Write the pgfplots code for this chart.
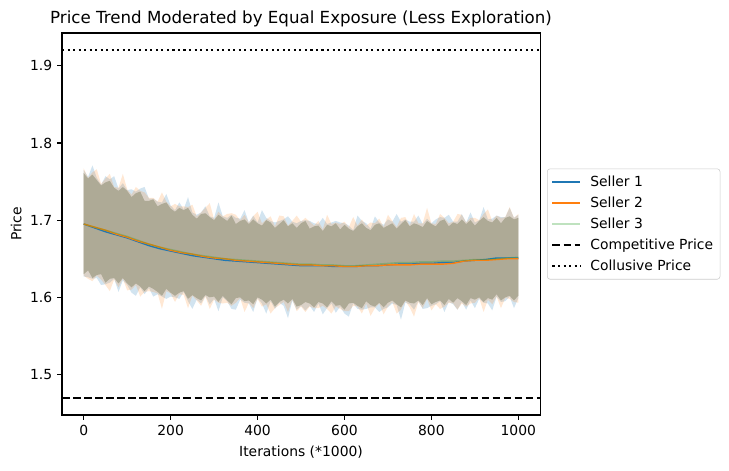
\documentclass[border=0pt]{standalone}
\usepackage{fontspec}
\setmainfont{DejaVu Sans}
\usepackage{pgfplots}
\pgfplotsset{compat=1.18}
\usepackage{pgfplotstable}
\usepgfplotslibrary{fillbetween}
\definecolor{mplblue}{HTML}{1F77B4}
\definecolor{mplorange}{HTML}{FF7F0E}
\definecolor{mplgreen}{HTML}{2CA02C}
\definecolor{bandcore}{RGB}{174,170,150}

\pgfplotstableread{
x cu cl bu bl ou ol
0 1.761 1.630 1.765 1.627 1.767 1.628
10 1.754 1.635 1.756 1.626 1.755 1.624
20 1.759 1.625 1.771 1.624 1.762 1.621
30 1.752 1.629 1.755 1.625 1.766 1.628
40 1.745 1.630 1.746 1.616 1.747 1.623
50 1.749 1.619 1.757 1.617 1.754 1.616
60 1.751 1.624 1.753 1.619 1.760 1.608
70 1.742 1.625 1.757 1.624 1.743 1.623
80 1.738 1.618 1.741 1.607 1.742 1.613
90 1.743 1.625 1.748 1.622 1.760 1.624
100 1.738 1.618 1.739 1.616 1.740 1.609
110 1.730 1.613 1.740 1.606 1.733 1.610
120 1.735 1.618 1.737 1.602 1.743 1.616
130 1.737 1.614 1.741 1.613 1.738 1.601
140 1.725 1.608 1.743 1.604 1.736 1.607
150 1.725 1.614 1.728 1.612 1.729 1.608
160 1.727 1.611 1.728 1.601 1.729 1.607
170 1.718 1.607 1.724 1.604 1.724 1.605
180 1.721 1.602 1.723 1.601 1.736 1.585
190 1.723 1.611 1.734 1.598 1.724 1.608
200 1.715 1.606 1.719 1.601 1.718 1.605
210 1.711 1.602 1.713 1.600 1.721 1.594
220 1.716 1.606 1.723 1.598 1.718 1.604
230 1.713 1.608 1.714 1.607 1.718 1.603
240 1.716 1.598 1.730 1.595 1.717 1.586
250 1.707 1.603 1.710 1.585 1.720 1.602
260 1.702 1.599 1.707 1.597 1.705 1.596
270 1.708 1.596 1.710 1.592 1.710 1.589
280 1.709 1.603 1.718 1.602 1.716 1.601
290 1.704 1.600 1.705 1.591 1.722 1.585
300 1.700 1.601 1.703 1.598 1.701 1.597
310 1.707 1.594 1.723 1.582 1.711 1.593
320 1.703 1.602 1.705 1.600 1.705 1.592
330 1.699 1.596 1.703 1.595 1.708 1.593
340 1.706 1.591 1.707 1.585 1.709 1.589
350 1.695 1.599 1.703 1.584 1.707 1.593
360 1.699 1.600 1.702 1.597 1.700 1.599
370 1.701 1.595 1.713 1.593 1.707 1.581
380 1.695 1.596 1.697 1.592 1.697 1.593
390 1.701 1.591 1.706 1.581 1.705 1.586
400 1.696 1.600 1.697 1.599 1.711 1.598
410 1.693 1.597 1.713 1.592 1.696 1.588
420 1.700 1.592 1.703 1.579 1.701 1.591
430 1.697 1.597 1.699 1.595 1.705 1.579
440 1.690 1.588 1.697 1.585 1.692 1.586
450 1.695 1.594 1.699 1.593 1.706 1.590
460 1.700 1.597 1.701 1.589 1.705 1.594
470 1.692 1.592 1.705 1.573 1.693 1.581
480 1.696 1.598 1.698 1.596 1.699 1.597
490 1.690 1.588 1.696 1.584 1.706 1.582
500 1.696 1.590 1.699 1.589 1.698 1.588
510 1.699 1.594 1.700 1.583 1.703 1.581
520 1.689 1.592 1.699 1.589 1.698 1.588
530 1.692 1.587 1.696 1.581 1.693 1.586
540 1.693 1.594 1.695 1.592 1.699 1.586
550 1.686 1.592 1.703 1.578 1.688 1.589
560 1.694 1.587 1.695 1.586 1.707 1.585
570 1.692 1.595 1.697 1.592 1.695 1.579
580 1.696 1.589 1.699 1.580 1.697 1.588
590 1.688 1.590 1.697 1.588 1.695 1.585
600 1.694 1.584 1.696 1.579 1.698 1.582
610 1.689 1.592 1.693 1.575 1.691 1.582
620 1.686 1.593 1.687 1.592 1.704 1.589
630 1.692 1.589 1.706 1.585 1.693 1.588
640 1.696 1.586 1.699 1.584 1.701 1.579
650 1.690 1.595 1.696 1.585 1.693 1.592
660 1.687 1.590 1.689 1.587 1.697 1.576
670 1.694 1.588 1.705 1.587 1.696 1.586
680 1.696 1.593 1.697 1.581 1.702 1.592
690 1.690 1.587 1.694 1.585 1.691 1.578
700 1.693 1.593 1.701 1.587 1.707 1.588
710 1.696 1.596 1.698 1.592 1.699 1.594
720 1.689 1.591 1.708 1.590 1.691 1.579
730 1.695 1.587 1.698 1.571 1.703 1.584
740 1.700 1.596 1.701 1.593 1.704 1.595
750 1.692 1.593 1.698 1.591 1.693 1.587
760 1.696 1.592 1.698 1.584 1.708 1.575
770 1.694 1.596 1.706 1.595 1.696 1.594
780 1.691 1.590 1.695 1.585 1.696 1.586
790 1.699 1.599 1.702 1.586 1.716 1.598
800 1.695 1.591 1.696 1.589 1.696 1.583
810 1.692 1.594 1.701 1.591 1.695 1.591
820 1.699 1.596 1.704 1.595 1.708 1.585
830 1.701 1.590 1.703 1.581 1.703 1.588
840 1.692 1.598 1.707 1.594 1.696 1.593
850 1.697 1.593 1.698 1.591 1.698 1.592
860 1.695 1.599 1.698 1.584 1.708 1.584
870 1.701 1.595 1.708 1.594 1.707 1.592
880 1.695 1.590 1.697 1.584 1.697 1.588
890 1.700 1.599 1.710 1.596 1.703 1.592
900 1.693 1.597 1.697 1.586 1.703 1.593
910 1.699 1.600 1.700 1.598 1.700 1.599
920 1.704 1.594 1.717 1.593 1.708 1.581
930 1.699 1.599 1.701 1.592 1.714 1.597
940 1.697 1.597 1.702 1.583 1.699 1.591
950 1.703 1.604 1.706 1.601 1.706 1.601
960 1.696 1.596 1.704 1.594 1.703 1.586
970 1.703 1.600 1.704 1.595 1.704 1.599
980 1.705 1.602 1.716 1.601 1.717 1.598
990 1.701 1.596 1.703 1.586 1.703 1.594
1000 1.703 1.602 1.707 1.599 1.708 1.593
}\band

\pgfplotstableread{
x s1 s2 s3
0 1.695 1.695 1.695
25 1.690 1.691 1.691
50 1.685 1.687 1.687
75 1.681 1.682 1.683
100 1.677 1.678 1.679
125 1.672 1.673 1.674
150 1.667 1.669 1.669
175 1.663 1.665 1.665
200 1.660 1.661 1.662
225 1.657 1.658 1.659
250 1.654 1.656 1.656
275 1.652 1.653 1.654
300 1.650 1.651 1.652
325 1.648 1.650 1.650
350 1.647 1.648 1.649
375 1.646 1.647 1.648
400 1.645 1.646 1.647
425 1.644 1.645 1.646
450 1.643 1.644 1.645
475 1.642 1.643 1.644
500 1.641 1.642 1.643
525 1.641 1.642 1.643
550 1.641 1.641 1.642
575 1.640 1.641 1.642
600 1.640 1.640 1.641
625 1.640 1.640 1.641
650 1.641 1.641 1.642
675 1.641 1.641 1.643
700 1.642 1.642 1.644
725 1.643 1.642 1.645
750 1.643 1.642 1.645
775 1.644 1.643 1.646
800 1.644 1.643 1.646
825 1.645 1.643 1.647
850 1.645 1.644 1.647
875 1.647 1.647 1.648
900 1.648 1.648 1.649
925 1.649 1.648 1.649
950 1.651 1.649 1.650
975 1.651 1.650 1.651
1000 1.651 1.650 1.652
}\sellers

\begin{document}
\begin{tikzpicture}
\begin{axis}[
  scale only axis, width=344.2pt, height=275pt,
  xmin=-50, xmax=1050, ymin=1.4475, ymax=1.9425,
  xtick={0,200,400,600,800,1000},
  ytick={1.5,1.6,1.7,1.8,1.9},
  /pgf/number format/assume math mode=true,
  yticklabel style={/pgf/number format/.cd, fixed, fixed zerofill, precision=1},
  xticklabel style={/pgf/number format/1000 sep={}},
  tick align=outside, tick pos=left, major tick length=3.5pt,
  every tick/.style={black, line width=0.8pt},
  axis line style={line width=0.8pt},
  tick label style={font=\fontsize{10}{12}\selectfont},
  label style={font=\fontsize{10}{12}\selectfont},
  title={Price Trend Moderated by Equal Exposure (Less Exploration)},
  title style={at={(axis description cs:0.5,1.016)}, anchor=center, font=\fontsize{12}{14}\selectfont},
  xlabel={Iterations (*1000)},
  xlabel style={at={(axis description cs:0.5,-0.097)}, anchor=center},
  ylabel={Price},
  ylabel style={at={(axis description cs:-0.096,0.5)}, anchor=center},
  legend style={at={(axis description cs:1,0.5)}, anchor=west, xshift=5pt,
    draw=black!20, rounded corners=2pt, font=\fontsize{10}{12}\selectfont,
    cells={anchor=west}, row sep=2pt, column sep=4.5pt, inner xsep=3pt, inner ysep=3pt},
  legend image code/.code={\draw[#1] (0pt,0pt) -- (20pt,0pt);},
]
\addplot[name path=bu, draw=none, forget plot] table[x=x, y=bu] {\band};
\addplot[name path=bl, draw=none, forget plot] table[x=x, y=bl] {\band};
\addplot[name path=ou, draw=none, forget plot] table[x=x, y=ou] {\band};
\addplot[name path=ol, draw=none, forget plot] table[x=x, y=ol] {\band};
\addplot[name path=cu, draw=none, forget plot] table[x=x, y=cu] {\band};
\addplot[name path=cl, draw=none, forget plot] table[x=x, y=cl] {\band};
\addplot[fill=mplblue, fill opacity=0.2, draw=none, forget plot] fill between[of=bu and bl];
\addplot[fill=mplorange, fill opacity=0.18, draw=none, forget plot] fill between[of=ou and ol];
\addplot[fill=bandcore, draw=none, forget plot] fill between[of=cu and cl];

\addplot[draw=mplblue, line width=1pt] table[x=x, y=s1] {\sellers};
\addlegendentry{Seller 1}
\addplot[draw=mplorange, line width=1pt] table[x=x, y=s2] {\sellers};
\addlegendentry{Seller 2}
\addplot[draw=mplgreen, draw opacity=0.3, line width=1pt] table[x=x, y=s3] {\sellers};
\addlegendentry{Seller 3}
\addplot[draw=black, line width=1.5pt, dash pattern=on 5.55pt off 2.4pt] coordinates {(-50,1.47) (1050,1.47)};
\addlegendentry{Competitive Price}
\addplot[draw=black, line width=1.5pt, dash pattern=on 1.5pt off 2.475pt] coordinates {(-50,1.92) (1050,1.92)};
\addlegendentry{Collusive Price}
\end{axis}
\pgfresetboundingbox
\path[use as bounding box] (-44.64pt,-39.6pt) rectangle (480.24pt,298.8pt);
\end{tikzpicture}
\end{document}
